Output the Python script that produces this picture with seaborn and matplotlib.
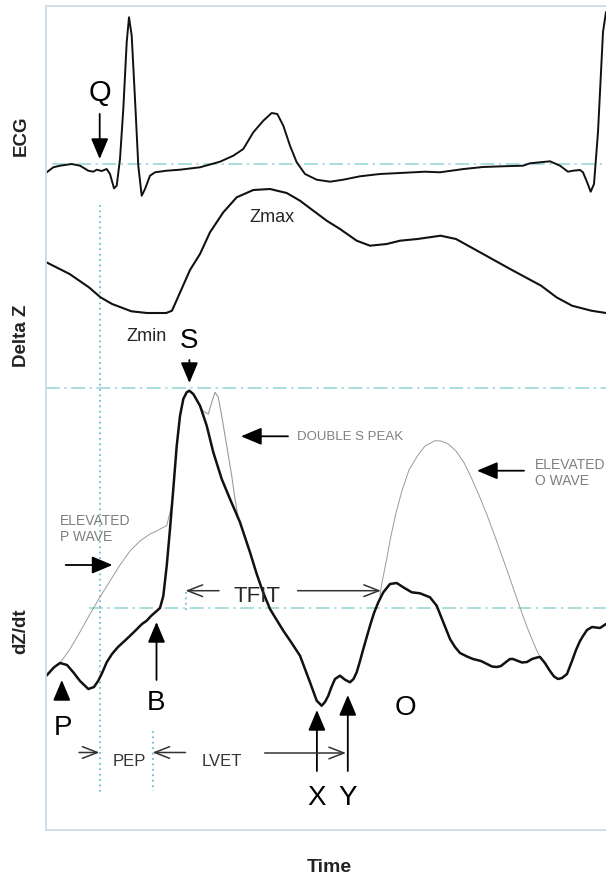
import numpy as np
import pandas as pd
import matplotlib
matplotlib.use("Agg")
import matplotlib.pyplot as plt
import seaborn as sns

# ---------------- data (time in px units) ----------------
ecg_x = [46.7, 53.3, 60, 71.7, 80, 88.3, 93.3, 96.7, 101.7, 106.7, 110, 114, 116.7, 120, 123.3, 126.7,
         129, 131.7, 135, 138.3, 141.7, 145, 150, 155, 166.7, 180, 200, 220, 233.3, 243.3, 253.3,
         263.3, 271.7, 277.3, 283.3, 290, 296.7, 305, 316.7, 330, 343.3, 360, 380, 400, 425, 440,
         463.8, 483, 502.4, 523, 530, 550, 560, 568, 573, 580, 583, 587, 590.7, 594, 598, 603, 606]
ecg_y = [173.3, 168.3, 166.7, 165, 166.7, 171.7, 172.7, 170.7, 172, 170, 175, 189.3, 186.7, 160, 110, 43.3,
         18.3, 36.7, 100, 166.7, 196.7, 190, 176.7, 173.3, 171.7, 170.7, 168.3, 162.7, 156.7, 150, 133.3,
         121.7, 114, 115, 126.7, 146.7, 163.3, 175, 180.7, 182.7, 180.7, 177.3, 175, 174, 172.7, 173.3,
         170, 168, 167.3, 166.7, 164.3, 162.3, 166.7, 172.7, 171.7, 171, 173.3, 183, 192.7, 185, 133, 33, 13]

dz_x = [46.4, 69.6, 88.9, 100.5, 112.1, 131.4, 146.9, 166.2, 172, 181.6, 190, 200, 210, 223.3, 236.7,
        253.3, 270, 286.7, 300, 313.3, 326.7, 340, 356.7, 370, 386.7, 400, 417.4, 440.6, 456, 483.1,
        510.1, 541.1, 556.5, 572, 591.3, 606]
dz_y = [263.3, 275, 288.3, 298.3, 305, 312.3, 314, 314, 311.7, 290, 271, 255, 233.3, 213.3, 198.3,
        191, 190, 194, 201.7, 211.7, 221.7, 230, 241.7, 246.7, 245, 241.7, 240, 236.7, 240, 255,
        270, 286.7, 298.3, 306.7, 311.7, 314]

dzdt_x = [46.4, 54, 60, 67, 73.3, 80, 88.3, 94, 98.3, 102.4, 106.7, 112, 118, 126.7, 135, 142, 146.7,
          151, 155, 160, 163.3, 166.7, 170, 173.3, 176.7, 180, 183.3, 186.7, 189.3, 193.3, 200, 206.7,
          213.3, 221.7, 230, 240, 250, 256.7, 263, 270, 276.7, 283.3, 291, 300, 305, 310, 316.7, 321.7,
          325, 328.3, 331.5, 335, 340, 345, 350, 353.5, 356.7, 360, 363.3, 370, 374, 378.3, 383.3, 390,
          396.7, 403.3, 411.7, 420, 430, 436.7, 443.3, 450, 455, 460, 467, 473, 481, 487, 492, 497,
          501, 506, 510, 513, 518, 522, 527, 532, 537, 540, 544.9, 550, 554, 558, 562, 567, 572,
          576, 580, 583, 587, 592, 596, 600, 603, 606]
dzdt_y = [676.7, 668.3, 664, 666, 673.3, 682, 690, 688, 681.7, 673.3, 663.3, 655, 648, 640, 632, 625, 621.7,
          617, 613.5, 609, 597, 567, 530, 490, 447, 417, 400, 393.3, 391.7, 395, 406.7, 426.7,
          453.3, 480, 500, 523.3, 553.3, 575, 593, 610, 621, 631.7, 643, 656.7, 670, 683.3, 701.7, 706.7,
          703, 696.7, 688, 680, 676.7, 680.7, 683.3, 680, 673.3, 662, 650, 626.7, 614, 603.3, 593.3, 585,
          584, 588.3, 593.3, 594.3, 598.3, 606.7, 623.3, 640, 648, 654, 657.5, 660, 662, 665, 667.5, 668,
          667, 663, 660, 660, 662, 663.5, 663, 660, 658.5, 658, 664, 672, 677.5, 680, 679, 675, 662,
          651, 642, 637, 631, 628, 628.5, 629, 627, 625]

pwave_x = [60, 70, 80, 90, 100, 110, 120, 130, 140, 150, 156.7, 160, 166.7, 170, 172.7, 173.3]
pwave_y = [664, 650, 633, 615, 598, 582, 566, 552, 542, 535, 532, 530, 526.7, 513.3, 500, 490]

speak_x = [200, 203, 205, 208.3, 211.7, 215, 218.3, 221.7, 226.7, 231.7, 235, 238]
speak_y = [406.7, 412, 413.3, 415, 403.3, 393.3, 398.3, 416.7, 446.7, 476.7, 500, 518]

owave_x = [380, 381.7, 386.7, 390.3, 396, 401.9, 409, 417.4, 425, 434.8, 441, 448.3, 456, 463.8, 471,
           479.2, 487, 494.7, 502, 510.1, 516, 521.7, 527, 533.3, 537, 540]
owave_y = [597, 585, 560, 540, 514, 492, 471, 457, 447, 441.7, 442, 445, 452, 463.3, 478,
           496.7, 516, 536.7, 557, 580, 597, 613.3, 628, 643.3, 652, 658]

# ---------------- figure ----------------
sns.set_style("white")
plt.rcParams["font.family"] = ["Liberation Sans", "DejaVu Sans"]

W, H = 606, 879
fig = plt.figure(figsize=(W / 100, H / 100), dpi=100)
x0, x1, y0, y1 = 45.6, 606.0, 7.3, 831.0
ax = fig.add_axes([x0 / W, 1 - y1 / H, (x1 - x0) / W, (y1 - y0) / H])
ax.set_xlim(x0, x1)
ax.set_ylim(y1, y0)
ax.set_xticks([])
ax.set_yticks([])
for side, sp in ax.spines.items():
    sp.set_color("#c8dde6")
    sp.set_linewidth(1.3)
ax.spines["right"].set_visible(False)

# reference lines
dash_col = "#93d3d3"
dd = (0, (9, 3, 1.5, 3))
ax.hlines(165, 52, 606, colors=dash_col, linestyles=[dd], lw=1.1)
ax.hlines(389.3, 45.6, 606, colors=dash_col, linestyles=[dd], lw=1.1)
ax.hlines(608.5, 88.5, 606, colors=dash_col, linestyles=[dd], lw=1.1)
dot_col = "#6fbccc"
ax.vlines(100, 206, 793, colors=dot_col, linestyles=[(0, (1, 2))], lw=1.3)
ax.vlines(152.7, 732, 792, colors=dot_col, linestyles=[(0, (1, 2))], lw=1.3)
ax.vlines(186.5, 593, 611, colors=dot_col, linestyles=[(0, (1, 2))], lw=1.3)

# curves
thin_col = "#9a9a9a"
sns.lineplot(x=pwave_x, y=pwave_y, sort=False, estimator=None, color=thin_col, lw=0.7, ax=ax)
sns.lineplot(x=speak_x, y=speak_y, sort=False, estimator=None, color=thin_col, lw=0.8, ax=ax)
sns.lineplot(x=owave_x, y=owave_y, sort=False, estimator=None, color=thin_col, lw=0.7, ax=ax)
sns.lineplot(x=ecg_x, y=ecg_y, sort=False, estimator=None, color="#111111", lw=1.4, ax=ax)
sns.lineplot(x=dz_x, y=dz_y, sort=False, estimator=None, color="#111111", lw=1.5, ax=ax)
sns.lineplot(x=dzdt_x, y=dzdt_y, sort=False, estimator=None, color="#111111", lw=1.8, ax=ax)
ax.set_xlim(x0, x1)
ax.set_ylim(y1, y0)

# arrows
def filled(x_from, y_from, x_to, y_to):
    ax.annotate("", xy=(x_to, y_to), xytext=(x_from, y_from),
                arrowprops=dict(arrowstyle="-|>,head_length=0.9,head_width=0.38",
                                color="black", lw=1.3, shrinkA=0, shrinkB=0,
                                mutation_scale=14), annotation_clip=False)

def opened(x_from, y_from, x_to, y_to, col="#333333"):
    ax.annotate("", xy=(x_to, y_to), xytext=(x_from, y_from),
                arrowprops=dict(arrowstyle="->,head_length=0.9,head_width=0.35",
                                color=col, lw=1.1, shrinkA=0, shrinkB=0,
                                mutation_scale=12), annotation_clip=False)

filled(99.7, 115, 99.7, 160)      # Q
filled(189.4, 361, 189.4, 384)    # S
filled(288, 437.3, 241, 437.3)    # double S peak
filled(524, 471.7, 477, 471.7)    # elevated O
filled(65.7, 566, 112.5, 566)     # elevated P
filled(156.5, 681, 156.5, 623)    # B
filled(61.8, 697, 61.8, 681)      # P
filled(316.9, 772, 316.9, 711)    # X
filled(347.8, 772, 347.8, 696)    # Y

opened(219, 591.7, 185.5, 591.7)  # TFIT left
opened(297.6, 591.7, 381, 591.7)  # TFIT right
opened(79, 753.5, 99.5, 753.5)    # PEP left
opened(185.5, 753.5, 152.5, 753.5)  # PEP right / LVET start
opened(264.7, 754, 346, 754)      # LVET end

# labels
big = dict(ha="center", va="center", fontsize=20, color="black")
ax.text(99.7, 93, "Q", **{**big, "fontsize": 21})
ax.text(189.4, 341, "S", **big)
ax.text(62.6, 728, "P", **big)
ax.text(156.5, 703, "B", **big)
ax.text(316.9, 798, "X", **big)
ax.text(347.8, 798, "Y", **big)
ax.text(405.8, 708, "O", **big)
ax.text(272, 217, "Zmax", ha="center", va="center", fontsize=13)
ax.text(146.9, 336, "Zmin", ha="center", va="center", fontsize=13)
ax.text(257, 597, "TFIT", ha="center", va="center", fontsize=16)
ax.text(129.5, 761, "PEP", ha="center", va="center", fontsize=12, color="#333333")
ax.text(222.2, 761, "LVET", ha="center", va="center", fontsize=12, color="#333333")
gray = "#7f7f7f"
ax.text(297, 437.3, "DOUBLE S PEAK", ha="left", va="center", fontsize=9.5, color=gray)
ax.text(535, 473, "ELEVATED\nO WAVE", ha="left", va="center", fontsize=10, color=gray, linespacing=1.15)
ax.text(59.5, 529, "ELEVATED\nP WAVE", ha="left", va="center", fontsize=10, color=gray, linespacing=1.15)

lab = dict(ha="center", va="center", fontsize=13.5, fontweight="bold", rotation=90, color="#222222")
ax.text(21, 136, "ECG", **lab)
ax.text(21, 336, "Delta Z", **lab)
ax.text(21, 631, "dZ/dt", **lab)
ax.text(329, 868, "Time", ha="center", va="center", fontsize=14, fontweight="bold", color="#222222")

fig.savefig("out.png", dpi=100)
